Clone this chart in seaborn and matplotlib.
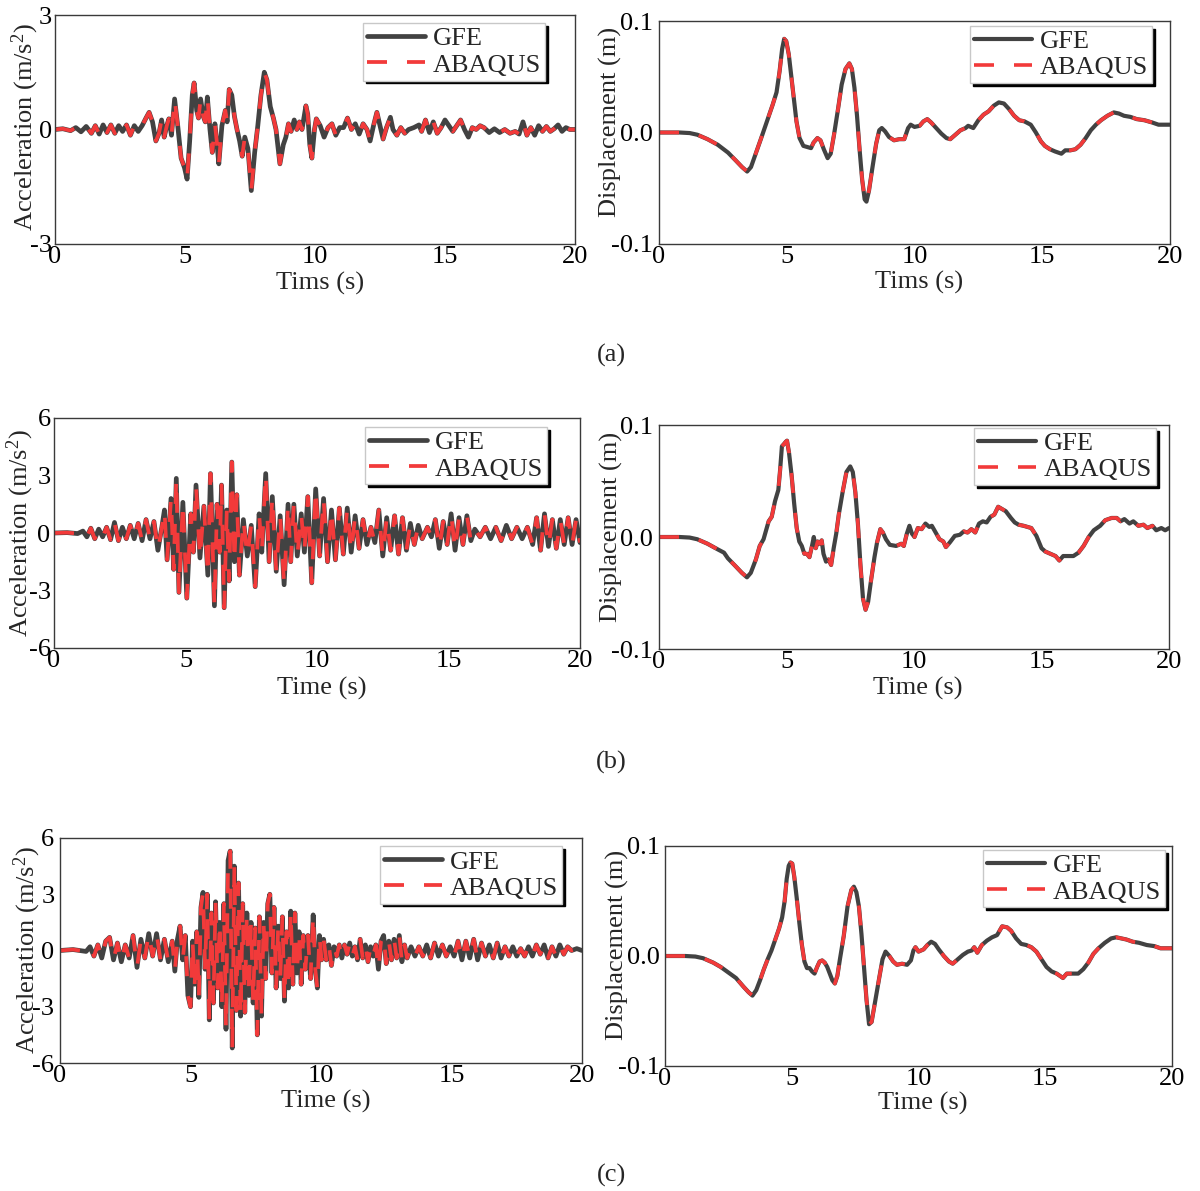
import matplotlib
matplotlib.use("Agg")
import matplotlib.pyplot as plt
import seaborn as sns

# ---------------- data ----------------
acc_a_pts = [(0,0),(0.3,0.02),(0.6,-0.03),(0.8,0.05),(1.0,-0.06),(1.2,0.08),(1.4,-0.1),(1.55,0.1),(1.7,-0.12),
 (1.85,0.12),(2.0,-0.08),(2.15,0.12),(2.3,-0.1),(2.45,0.1),(2.6,-0.05),(2.75,0.12),(2.9,-0.15),(3.05,0.1),(3.2,-0.05),
 (3.35,0.1),(3.5,0.3),(3.62,0.45),(3.75,0.2),(3.88,-0.3),(4.0,-0.1),(4.1,0.25),(4.2,-0.2),(4.3,0.1),(4.38,0.28),
 (4.48,-0.15),(4.6,0.8),(4.72,0.1),(4.85,-0.75),(4.98,-1.0),(5.08,-1.3),(5.18,-0.3),(5.28,0.9),(5.35,1.22),(5.45,0.5),
 (5.52,0.3),(5.6,0.8),(5.7,0.35),(5.78,0.2),(5.86,0.85),(5.96,0.0),(6.05,-0.6),(6.15,0.15),(6.22,-0.3),(6.3,-0.9),
 (6.42,0.1),(6.55,0.5),(6.62,0.2),(6.7,1.05),(6.8,0.9),(6.9,0.35),(7.0,0.0),(7.1,-0.3),(7.2,-0.7),(7.3,-0.2),
 (7.42,-0.5),(7.55,-1.6),(7.68,-0.6),(7.8,0.1),(7.92,0.9),(8.05,1.5),(8.15,1.3),(8.28,0.6),(8.4,0.3),(8.5,0.0),
 (8.65,-0.9),(8.78,-0.4),(8.88,-0.2),(8.98,0.15),(9.08,-0.05),(9.2,0.25),(9.3,0.0),(9.4,0.2),(9.5,0.0),(9.65,0.62),
 (9.72,0.4),(9.8,-0.4),(9.88,-0.75),(9.98,0.0),(10.05,0.28),(10.2,0.1),(10.35,-0.2),(10.5,0.05),(10.65,0.15),
 (10.8,-0.15),(10.95,0.05),(11.1,0.05),(11.25,0.3),(11.4,0.0),(11.55,0.15),(11.7,-0.12),(11.85,0.15),(12.0,0.0),
 (12.12,-0.3),(12.25,0.1),(12.38,0.45),(12.5,0.1),(12.62,-0.25),(12.75,0.05),(12.9,0.32),(13.0,0.0),(13.15,-0.15),
 (13.3,0.05),(13.45,-0.1),(13.6,0.0),(13.8,0.05),(14.0,0.12),(14.1,-0.05),(14.25,0.25),(14.4,-0.08),(14.55,0.2),
 (14.7,-0.1),(14.85,0.05),(15.0,0.25),(15.15,0.1),(15.3,-0.05),(15.45,0.1),(15.6,0.25),(15.75,0.0),(15.9,-0.2),
 (16.05,0.05),(16.2,0.0),(16.35,0.1),(16.5,0.05),(16.7,-0.08),(16.9,0.02),(17.1,-0.08),(17.3,0.0),(17.5,-0.1),
 (17.7,-0.05),(17.85,-0.12),(18.0,0.2),(18.15,-0.15),(18.3,0.05),(18.45,-0.15),(18.6,0.1),(18.75,-0.05),(18.9,0.08),
 (19.05,-0.05),(19.2,0.02),(19.35,0.12),(19.5,-0.05),(19.65,0.05),(19.8,0.0),(20.0,0.0)]

disp_a_pts = [(0,0),(0.8,0),(1.2,-0.0005),(1.5,-0.002),(1.9,-0.006),(2.3,-0.011),(2.7,-0.018),(3.0,-0.025),
 (3.25,-0.031),(3.45,-0.035),(3.6,-0.031),(3.8,-0.018),(4.0,-0.005),(4.15,0.005),(4.3,0.015),(4.45,0.025),(4.6,0.036),
 (4.72,0.055),(4.82,0.075),(4.9,0.084),(4.98,0.082),(5.08,0.07),(5.18,0.05),(5.28,0.03),(5.38,0.01),(5.5,-0.005),
 (5.65,-0.012),(5.8,-0.013),(5.95,-0.014),(6.05,-0.009),(6.2,-0.005),(6.32,-0.007),(6.45,-0.015),(6.6,-0.023),
 (6.72,-0.019),(6.85,-0.002),(7.0,0.02),(7.15,0.043),(7.3,0.057),(7.45,0.062),(7.55,0.057),(7.65,0.04),(7.75,0.015),
 (7.85,-0.015),(7.95,-0.042),(8.05,-0.06),(8.12,-0.062),(8.22,-0.052),(8.35,-0.032),(8.5,-0.01),(8.62,0.002),
 (8.72,0.004),(8.85,0.001),(9.0,-0.004),(9.2,-0.007),(9.4,-0.006),(9.6,-0.006),(9.75,0.004),(9.85,0.007),(10.0,0.005),
 (10.2,0.006),(10.35,0.01),(10.5,0.012),(10.65,0.009),(10.85,0.004),(11.05,-0.001),(11.25,-0.005),(11.4,-0.006),
 (11.6,-0.002),(11.8,0.002),(12.0,0.004),(12.1,0.006),(12.3,0.004),(12.5,0.011),(12.7,0.016),(12.9,0.019),
 (13.1,0.024),(13.3,0.027),(13.5,0.026),(13.7,0.021),(13.9,0.015),(14.1,0.011),(14.3,0.01),(14.55,0.007),(14.75,0.0),
 (14.95,-0.008),(15.1,-0.012),(15.3,-0.015),(15.5,-0.017),(15.75,-0.019),(15.9,-0.016),(16.1,-0.016),(16.3,-0.015),
 (16.5,-0.011),(16.7,-0.005),(16.9,0.002),(17.1,0.007),(17.3,0.011),(17.55,0.015),(17.8,0.018),(18.0,0.017),
 (18.2,0.015),(18.45,0.014),(18.7,0.012),(19.0,0.011),(19.3,0.009),(19.55,0.007),(19.8,0.007),(20.0,0.007)]

acc_b_pts = [(0,0),(0.5,0.02),(0.9,-0.03),(1.1,0.1),(1.25,-0.2),(1.4,0.25),(1.55,-0.3),(1.7,0.2),(1.85,-0.2),
 (2.0,0.3),(2.15,-0.35),(2.3,0.55),(2.45,-0.4),(2.6,0.3),(2.75,-0.3),(2.9,0.4),(3.05,-0.3),(3.2,0.5),(3.35,-0.4),
 (3.5,0.7),(3.65,-0.3),(3.8,0.6),(3.95,-0.9),(4.1,0.3),(4.2,1.2),(4.3,-1.4),(4.45,1.8),(4.55,-1.9),(4.65,2.85),
 (4.75,-3.1),(4.9,1.6),(5.05,-3.4),(5.2,1.0),(5.3,-1.0),(5.4,2.5),(5.55,-1.3),(5.7,1.4),(5.85,-2.2),(5.95,3.1),
 (6.1,-3.8),(6.2,1.5),(6.3,-1.0),(6.37,2.5),(6.47,-3.9),(6.57,1.2),(6.66,-2.5),(6.76,3.7),(6.86,-1.5),(6.95,2.0),
 (7.05,-2.2),(7.2,0.7),(7.35,-1.2),(7.5,0.4),(7.65,-2.8),(7.8,1.0),(7.9,-1.0),(8.05,3.1),(8.18,-1.5),(8.3,1.9),
 (8.45,-2.0),(8.6,0.9),(8.75,-2.7),(8.9,1.5),(9.0,-1.5),(9.12,1.5),(9.25,-1.2),(9.4,1.0),(9.52,-1.0),(9.65,1.9),
 (9.8,-2.6),(9.95,2.3),(10.1,-1.2),(10.25,1.8),(10.4,-1.5),(10.55,1.2),(10.7,-1.4),(10.85,1.3),(11.0,-1.1),
 (11.15,1.3),(11.3,-1.0),(11.45,0.9),(11.6,-0.8),(11.75,0.7),(11.9,-0.6),(12.05,0.3),(12.2,-0.5),(12.35,1.2),
 (12.5,-1.2),(12.65,0.8),(12.8,-0.9),(12.95,0.9),(13.1,-1.1),(13.25,0.8),(13.4,-0.9),(13.55,0.5),(13.7,-0.6),
 (13.85,0.4),(14.0,-0.3),(14.2,0.3),(14.35,-0.2),(14.5,0.7),(14.65,-0.8),(14.8,0.6),(14.95,-0.6),(15.1,1.0),
 (15.25,-0.9),(15.4,0.8),(15.55,-0.6),(15.7,0.9),(15.85,-0.4),(16.0,0.2),(16.2,-0.2),(16.4,0.3),(16.6,-0.3),
 (16.8,0.3),(17.0,-0.4),(17.2,0.4),(17.4,-0.3),(17.6,0.3),(17.8,-0.3),(18.0,0.3),(18.2,-0.6),(18.35,0.8),(18.5,-0.9),
 (18.65,1.0),(18.8,-0.7),(18.95,0.7),(19.1,-0.8),(19.25,0.7),(19.4,-0.6),(19.55,0.8),(19.7,-0.6),(19.85,0.7),(20.0,-0.5)]

disp_b_pts = [(0,0),(0.8,0),(1.2,-0.0005),(1.5,-0.002),(1.9,-0.006),(2.3,-0.011),(2.55,-0.014),(2.7,-0.019),
 (3.0,-0.026),(3.25,-0.032),(3.45,-0.036),(3.6,-0.032),(3.8,-0.02),(3.95,-0.008),(4.1,-0.002),(4.2,0.006),(4.3,0.014),
 (4.42,0.018),(4.55,0.032),(4.68,0.042),(4.75,0.06),(4.82,0.081),(4.9,0.083),(4.97,0.085),(5.02,0.086),(5.1,0.075),
 (5.2,0.055),(5.3,0.03),(5.4,0.008),(5.5,-0.004),(5.6,-0.008),(5.7,-0.015),(5.8,-0.015),(5.9,-0.018),(6.0,-0.008),
 (6.07,0.0),(6.15,-0.01),(6.22,-0.004),(6.3,-0.006),(6.38,-0.003),(6.45,-0.015),(6.55,-0.022),(6.65,-0.02),
 (6.75,-0.025),(6.85,-0.01),(6.95,0.003),(7.05,0.02),(7.2,0.04),(7.35,0.058),(7.5,0.063),(7.6,0.058),(7.7,0.04),
 (7.8,0.012),(7.9,-0.025),(8.0,-0.055),(8.1,-0.065),(8.2,-0.058),(8.32,-0.038),(8.45,-0.018),(8.55,-0.005),
 (8.68,0.007),(8.78,0.004),(8.9,-0.002),(9.05,-0.007),(9.3,-0.008),(9.5,-0.006),(9.6,-0.008),(9.72,0.003),
 (9.82,0.01),(9.92,0.003),(10.02,0.0),(10.15,0.008),(10.3,0.007),(10.45,0.012),(10.6,0.009),(10.7,0.01),
 (10.85,0.004),(11.0,-0.002),(11.15,-0.004),(11.25,-0.009),(11.4,-0.005),(11.6,0.001),(11.8,0.002),(11.95,0.005),
 (12.1,0.004),(12.25,0.007),(12.4,0.004),(12.55,0.012),(12.7,0.014),(12.85,0.013),(13.0,0.018),(13.15,0.02),
 (13.3,0.027),(13.45,0.025),(13.6,0.023),(13.8,0.017),(13.95,0.013),(14.1,0.011),(14.3,0.01),(14.45,0.009),
 (14.6,0.008),(14.8,0.001),(15.0,-0.01),(15.15,-0.013),(15.35,-0.015),(15.55,-0.017),(15.7,-0.021),(15.85,-0.017),
 (16.0,-0.017),(16.25,-0.017),(16.45,-0.014),(16.65,-0.008),(16.85,0.0),(17.05,0.006),(17.3,0.01),(17.5,0.015),
 (17.75,0.017),(17.95,0.017),(18.1,0.014),(18.25,0.016),(18.45,0.012),(18.6,0.014),(18.8,0.01),(19.0,0.011),
 (19.15,0.008),(19.35,0.01),(19.5,0.006),(19.7,0.008),(19.85,0.006),(20.0,0.008)]

acc_c_pts = [(0,0),(0.5,0.05),(1.0,-0.05),(1.15,0.2),(1.3,-0.3),(1.45,0.3),(1.6,-0.4),(1.75,0.5),(1.9,0.7),
 (2.05,-0.5),(2.2,0.4),(2.35,-0.6),(2.5,0.3),(2.65,-0.4),(2.8,0.8),(2.95,-0.9),(3.1,0.6),(3.25,-0.4),(3.4,0.9),
 (3.55,-0.3),(3.7,0.9),(3.85,-0.5),(4.0,0.6),(4.15,-0.6),(4.3,0.5),(4.4,-1.1),(4.5,0.6),(4.6,1.3),(4.7,-0.5),
 (4.8,0.8),(4.9,-2.4),(5.0,-3.0),(5.08,0.5),(5.16,-1.8),(5.24,1.0),(5.32,-2.5),(5.4,2.3),(5.48,3.1),(5.56,-1.0),
 (5.64,3.0),(5.72,-3.7),(5.8,2.0),(5.88,-2.8),(5.96,2.6),(6.04,-2.0),(6.12,1.5),(6.2,-3.0),(6.28,2.5),(6.36,-4.2),
 (6.44,4.8),(6.52,5.3),(6.6,-5.2),(6.68,4.5),(6.76,-3.2),(6.84,3.6),(6.92,-3.5),(7.0,2.5),(7.08,-3.3),(7.16,2.0),
 (7.24,-2.4),(7.32,1.5),(7.4,-2.8),(7.48,1.2),(7.56,-4.5),(7.64,1.8),(7.72,-3.5),(7.8,1.5),(7.88,-1.5),(7.96,2.5),
 (8.04,3.0),(8.12,-1.2),(8.2,2.3),(8.28,-2.0),(8.36,1.3),(8.44,-1.5),(8.52,1.8),(8.6,-2.7),(8.68,1.0),(8.76,-2.0),
 (8.84,2.1),(8.92,-1.8),(9.0,2.0),(9.08,-1.2),(9.16,1.0),(9.24,-1.8),(9.32,0.8),(9.4,-1.0),(9.5,0.8),(9.6,-1.5),
 (9.7,1.9),(9.78,-1.0),(9.86,-2.0),(9.94,0.8),(10.02,-0.5),(10.1,0.6),(10.2,-0.5),(10.3,0.3),(10.4,-0.8),(10.5,0.2),
 (10.6,-0.3),(10.7,0.3),(10.8,-0.4),(10.9,0.3),(11.0,-0.2),(11.1,0.4),(11.2,-0.3),(11.3,0.2),(11.4,-0.5),(11.5,0.6),
 (11.6,-0.4),(11.7,0.3),(11.8,-0.6),(11.9,0.2),(12.0,-0.3),(12.1,0.3),(12.2,-1.0),(12.3,0.5),(12.4,0.8),(12.5,-0.7),
 (12.6,0.5),(12.7,-0.5),(12.8,0.6),(12.9,-0.4),(13.0,0.8),(13.1,-0.6),(13.2,0.3),(13.3,-0.4),(13.45,0.2),(13.6,-0.3),
 (13.75,0.2),(13.9,-0.3),(14.05,0.3),(14.2,-0.4),(14.35,0.4),(14.5,-0.3),(14.65,0.3),(14.8,-0.3),(14.95,0.2),
 (15.1,-0.3),(15.25,0.5),(15.4,-0.5),(15.55,0.5),(15.7,-0.4),(15.85,0.6),(16.0,-0.5),(16.15,0.4),(16.3,-0.3),
 (16.45,0.3),(16.6,-0.4),(16.75,0.4),(16.9,-0.4),(17.05,0.2),(17.2,-0.3),(17.35,0.2),(17.5,-0.3),(17.65,0.1),
 (17.8,-0.3),(17.95,0.2),(18.1,-0.3),(18.25,0.3),(18.4,-0.2),(18.55,0.3),(18.7,-0.4),(18.85,0.2),(19.0,-0.3),
 (19.15,0.3),(19.3,-0.2),(19.45,0.2),(19.6,0.0),(19.8,0.1),(20.0,0.0)]

disp_c_pts = [(0,0),(0.8,0),(1.2,-0.0005),(1.5,-0.002),(1.9,-0.006),(2.2,-0.01),(2.5,-0.015),(2.8,-0.02),
 (3.1,-0.028),(3.3,-0.033),(3.45,-0.036),(3.6,-0.031),(3.75,-0.022),(3.9,-0.012),(4.05,-0.003),(4.2,0.005),
 (4.35,0.015),(4.5,0.025),(4.62,0.035),(4.72,0.05),(4.8,0.07),(4.88,0.082),(4.95,0.085),(5.02,0.084),(5.1,0.072),
 (5.2,0.052),(5.3,0.03),(5.4,0.01),(5.5,-0.005),(5.6,-0.011),(5.7,-0.011),(5.8,-0.014),(5.9,-0.016),(6.0,-0.01),
 (6.1,-0.005),(6.2,-0.004),(6.3,-0.006),(6.4,-0.01),(6.5,-0.016),(6.6,-0.022),(6.7,-0.025),(6.8,-0.018),(6.9,-0.003),
 (7.05,0.018),(7.2,0.045),(7.35,0.06),(7.45,0.063),(7.55,0.058),(7.65,0.045),(7.75,0.02),(7.85,-0.01),(7.95,-0.04),
 (8.05,-0.062),(8.15,-0.06),(8.3,-0.04),(8.45,-0.02),(8.58,-0.003),(8.7,0.004),(8.85,0.0),(9.0,-0.005),(9.15,-0.008),
 (9.35,-0.007),(9.55,-0.008),(9.7,-0.004),(9.8,0.005),(9.88,0.008),(10.0,0.004),(10.2,0.006),(10.35,0.01),
 (10.5,0.013),(10.65,0.011),(10.8,0.006),(11.0,0.0),(11.2,-0.005),(11.35,-0.007),(11.55,-0.003),(11.75,0.001),
 (11.95,0.004),(12.1,0.005),(12.2,0.008),(12.32,0.003),(12.5,0.01),(12.7,0.014),(12.9,0.017),(13.1,0.019),
 (13.3,0.027),(13.5,0.026),(13.65,0.023),(13.85,0.016),(14.05,0.011),(14.25,0.01),(14.45,0.008),(14.65,0.004),
 (14.85,-0.003),(15.05,-0.01),(15.25,-0.014),(15.45,-0.016),(15.7,-0.02),(15.85,-0.016),(16.05,-0.016),
 (16.3,-0.016),(16.5,-0.012),(16.7,-0.006),(16.9,0.002),(17.1,0.007),(17.35,0.012),(17.6,0.016),(17.8,0.017),
 (18.0,0.016),(18.2,0.015),(18.45,0.013),(18.7,0.012),(19.0,0.01),(19.3,0.009),(19.55,0.007),(19.8,0.007),(20.0,0.007)]

series_labels = ["GFE", "ABAQUS"]
x_ticks = [0, 5, 10, 15, 20]
acc_ticks_a = [-3, 0, 3]
acc_ticks_bc = [-6, -3, 0, 3, 6]
disp_ticks = [-0.1, 0.0, 0.1]
disp_ticklabels = ["-0.1", "0.0", "0.1"]
xlabels = ["Tims (s)", "Time (s)", "Time (s)"]
captions = ["(a)", "(b)", "(c)"]

# ---------------- style ----------------
sns.set_theme(style="white")
plt.rcParams["font.family"] = ["Liberation Serif", "DejaVu Serif"]
plt.rcParams["mathtext.fontset"] = "custom"
plt.rcParams["mathtext.rm"] = "Liberation Serif"
plt.rcParams["mathtext.it"] = "Liberation Serif:italic"
plt.rcParams["axes.unicode_minus"] = False

FS = 19
GFE_C = "#424242"
ABQ_C = "#f23a3a"
W, H = 1200, 1191

fig = plt.figure(figsize=(12, 11.91), dpi=100)
fig.patch.set_facecolor("white")


def rect(L, T, R, B):
    return [L / W, 1 - B / H, (R - L) / W, (B - T) / H]


def panel(box, pts, ylim, yticks, yticklabels, ylabel, xlabel, leg_anchor,
          ylab_xy, xlab_xy, ypad, lw_g, lw_r):
    ax = fig.add_axes(rect(*box))
    t = [p[0] for p in pts]
    gfe = [p[1] for p in pts]
    abq = [p[1] for p in pts]  # ABAQUS curve overlaps GFE in the figure
    sns.lineplot(x=t, y=gfe, ax=ax, color=GFE_C, linewidth=lw_g, estimator=None,
                 sort=False, legend=False, solid_joinstyle="round")
    dash = 14.4 / lw_r
    sns.lineplot(x=t, y=abq, ax=ax, color=ABQ_C, linewidth=lw_r, estimator=None,
                 sort=False, legend=False, linestyle=(0, (dash, dash)),
                 dash_joinstyle="round", dash_capstyle="butt")
    ax.set_xlim(0, 20)
    ax.set_ylim(*ylim)
    ax.set_xticks(x_ticks)
    ax.set_xticklabels([str(v) for v in x_ticks])
    ax.set_yticks(yticks)
    ax.set_yticklabels(yticklabels)
    ax.tick_params(axis="both", length=0, labelsize=FS, colors="black")
    ax.tick_params(axis="x", pad=1.5)
    ax.tick_params(axis="y", pad=ypad)
    for s in ax.spines.values():
        s.set_color("#3a3a3a")
        s.set_linewidth(1.0)
    ax.set_ylabel(ylabel, fontsize=FS)
    ax.set_xlabel(xlabel, fontsize=FS)
    ax.yaxis.set_label_coords(*ylab_xy)
    ax.yaxis.label.set_verticalalignment("baseline")
    ax.xaxis.set_label_coords(*xlab_xy)
    ax.xaxis.label.set_verticalalignment("baseline")
    lines = ax.get_lines()
    ax.legend(lines[:2], series_labels, loc="upper left", bbox_to_anchor=leg_anchor,
              borderaxespad=0, fontsize=FS, frameon=True, fancybox=False,
              edgecolor="#c8c8c8", framealpha=1, facecolor="white",
              shadow={"color": "black", "alpha": 1}, borderpad=0.15,
              labelspacing=0.1, handlelength=2.2, handletextpad=0.3)
    return ax


acc_label = "Acceleration (m/s$^{2}$)"
disp_label = "Displacement (m)"

# row (a)
panel((55, 15, 575, 244), acc_a_pts, (-3, 3), acc_ticks_a, [str(v) for v in acc_ticks_a],
      acc_label, xlabels[0], (0.592, 0.965), (-0.043, 0.511), (0.51, -0.201), 2, 3.4, 2.7)
panel((659, 21, 1170, 244), disp_a_pts, (-0.1, 0.1), disp_ticks, disp_ticklabels,
      disp_label, xlabels[0], (0.609, 0.978), (-0.083, 0.547), (0.509, -0.202), 4.5, 3.0, 2.6)
# row (b)
panel((54, 418, 580, 648), acc_b_pts, (-6, 6), acc_ticks_bc, [str(v) for v in acc_ticks_bc],
      acc_label, xlabels[1], (0.591, 0.961), (-0.050, 0.5), (0.509, -0.204), 2.5, 3.4, 2.7)
panel((659, 425, 1169, 649), disp_b_pts, (-0.1, 0.1), disp_ticks, disp_ticklabels,
      disp_label, xlabels[1], (0.618, 0.987), (-0.082, 0.545), (0.508, -0.205), 4.5, 3.0, 2.6)
# row (c)
panel((60, 838, 582, 1063), acc_c_pts, (-6, 6), acc_ticks_bc, [str(v) for v in acc_ticks_bc],
      acc_label, xlabels[2], (0.613, 0.964), (-0.048, 0.5), (0.51, -0.2), 4, 3.4, 2.7)
panel((665, 846, 1172, 1066), disp_c_pts, (-0.1, 0.1), disp_ticks, disp_ticklabels,
      disp_label, xlabels[2], (0.627, 0.982), (-0.081, 0.55), (0.509, -0.2), 3.5, 3.0, 2.6)

for cap, y in zip(captions, [355, 762, 1175]):
    fig.text(611 / W, 1 - y / H, cap, ha="center", va="center", fontsize=FS)

fig.savefig("out.png", dpi=100, facecolor="white")
